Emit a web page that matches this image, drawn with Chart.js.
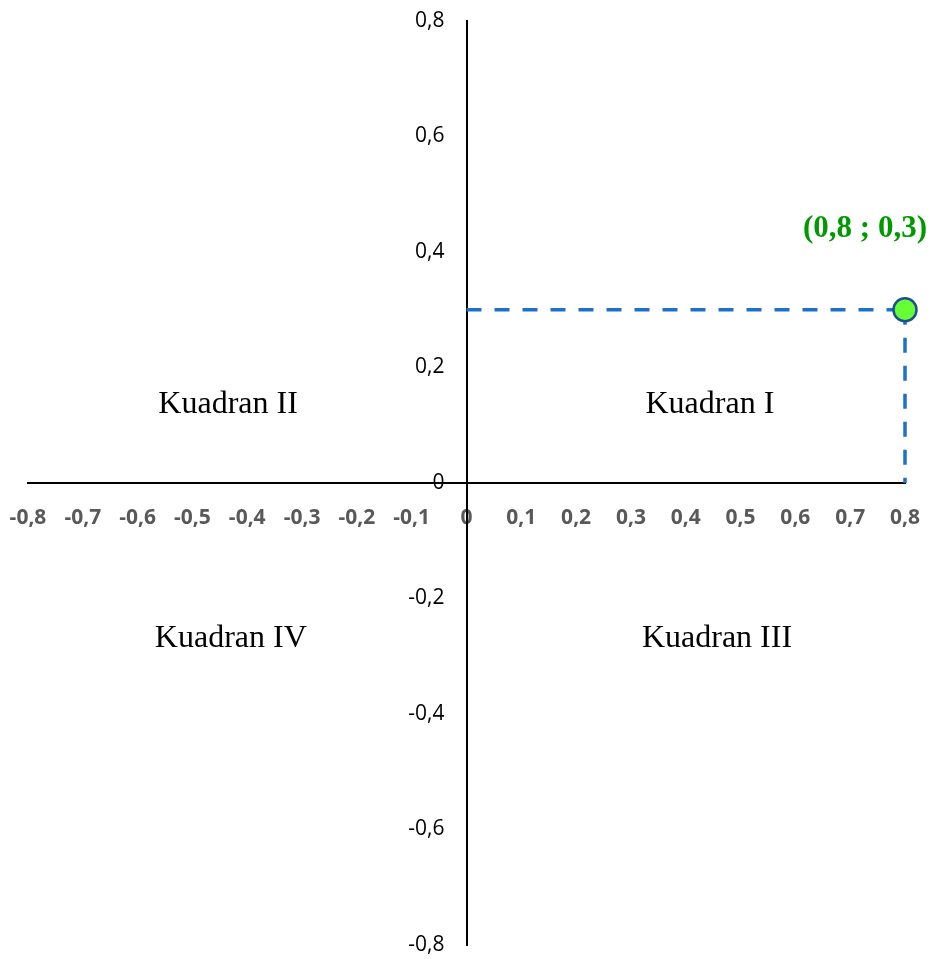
<!DOCTYPE html>
<html>
<head>
<meta charset="utf-8">
<script src="https://cdn.jsdelivr.net/npm/chart.js@4.4.1/dist/chart.umd.min.js"></script>
<style>
  html, body { margin: 0; padding: 0; background: #fff; }
  #wrap { width: 933px; height: 959px; position: relative; }
</style>
</head>
<body>
<div id="wrap"><canvas id="c"></canvas></div>
<script>
// ---- data ----
const pointX = [0.8];
const pointY = [0.3];
const pointLabel = ['(0,8 ; 0,3)'];

const xMin = -0.8, xMax = 0.8, xStep = 0.1;
const yMin = -0.8, yMax = 0.8, yStep = 0.2;

const quadrantNames = ['Kuadran I', 'Kuadran II', 'Kuadran III', 'Kuadran IV'];
const quadrantX = [0.444, -0.435, 0.457, -0.43];
const quadrantY = [0.135, 0.135, -0.27, -0.27];

const fmt = v => {
  const r = Math.round(v * 10) / 10;
  if (r === 0) return '0';
  return r.toFixed(1).replace('.', ',');
};

// guide lines from axes to the point
const hLine = [{ x: 0, y: pointY[0] }, { x: pointX[0], y: pointY[0] }];
const vLine = [{ x: pointX[0], y: pointY[0] }, { x: pointX[0], y: 0 }];

const Y_LABEL_GAP = 22;

// shift y-axis tick labels to the left of the centred axis line
const yLabelShift = {
  id: 'yLabelShift',
  beforeDraw(chart) {
    const s = chart.scales.y;
    if (!s || !s.getLabelItems) return;
    const items = s.getLabelItems();
    if (items && !items._shifted) {
      items.forEach(it => {
        if (it.options && it.options.translation) it.options.translation[0] -= Y_LABEL_GAP;
      });
      items._shifted = true;
    }
  }
};

const textPlugin = {
  id: 'texts',
  afterDatasetsDraw(chart) {
    const { ctx, scales: { x, y } } = chart;
    ctx.save();
    ctx.fillStyle = '#000';
    ctx.font = '32px "Liberation Serif", serif';
    ctx.textAlign = 'center';
    ctx.textBaseline = 'middle';
    quadrantNames.forEach((n, i) => {
      ctx.fillText(n, x.getPixelForValue(quadrantX[i]), y.getPixelForValue(quadrantY[i]));
    });
    ctx.fillStyle = '#009a00';
    ctx.font = 'bold 31px "Liberation Serif", serif';
    pointX.forEach((px, i) => {
      ctx.fillText(pointLabel[i], x.getPixelForValue(px) - 40, y.getPixelForValue(pointY[i]) - 81);
    });
    ctx.restore();
  }
};

const zeroPad = s => { s.paddingLeft = 0; s.paddingRight = 0; s.paddingTop = 0; s.paddingBottom = 0; };

new Chart(document.getElementById('c'), {
  type: 'scatter',
  data: {
    datasets: [
      {
        data: pointX.map((v, i) => ({ x: v, y: pointY[i] })),
        pointRadius: 11.5, backgroundColor: '#66ff33', borderColor: '#1f4e96',
        borderWidth: 2.5, clip: false
      },
      {
        data: hLine, showLine: true, pointRadius: 0, borderColor: '#1f70c8',
        borderWidth: 3.5, borderDash: [15, 13], clip: false
      },
      {
        data: vLine, showLine: true, pointRadius: 0, borderColor: '#1f70c8',
        borderWidth: 3.5, borderDash: [15, 13], clip: false
      }
    ]
  },
  options: {
    responsive: true,
    maintainAspectRatio: false,
    animation: false,
    events: [],
    layout: { padding: { left: 28, right: 28, top: 21, bottom: 11 } },
    plugins: { legend: { display: false }, tooltip: { enabled: false } },
    scales: {
      x: {
        type: 'linear', min: xMin, max: xMax,
        position: { y: 0 },
        afterFit: s => { s.height = 0; zeroPad(s); },
        grid: { display: false, drawTicks: false },
        border: { display: true, color: '#000', width: 2 },
        ticks: {
          stepSize: xStep, padding: 22, color: '#595959',
          font: { family: '"Open Sans", sans-serif', size: 21, weight: 'bold' },
          callback: v => fmt(v), maxRotation: 0, autoSkip: false
        }
      },
      y: {
        type: 'linear', min: yMin, max: yMax,
        position: { x: 0 },
        afterFit: s => { s.width = 0; zeroPad(s); },
        grid: { display: false, drawTicks: false },
        border: { display: true, color: '#000', width: 2 },
        ticks: {
          stepSize: yStep, padding: 0, color: '#000',
          font: { family: '"Open Sans", sans-serif', size: 21 },
          callback: v => fmt(v), autoSkip: false
        }
      }
    }
  },
  plugins: [yLabelShift, textPlugin]
});
</script>
</body>
</html>
